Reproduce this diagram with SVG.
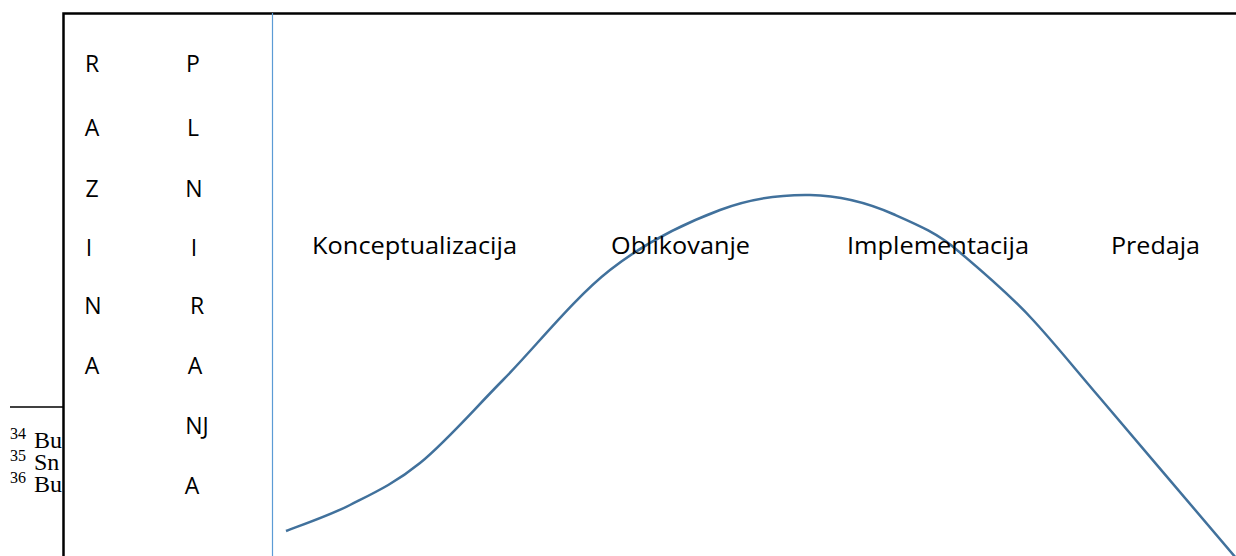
<svg xmlns="http://www.w3.org/2000/svg" width="1236" height="556" viewBox="0 0 1236 556">
<style>
.lbl{font-family:"Open Sans","Liberation Sans",sans-serif;font-size:23px;fill:#000}
.col{text-anchor:middle}
.fn{font-family:"Liberation Serif",serif;font-size:24px;fill:#000}
.sup{font-size:16px}
</style>
<rect width="1236" height="556" fill="#fff"/>
<g id="footnotes">
<line x1="10" y1="407" x2="64" y2="407" stroke="#000" stroke-width="1.5"/>
<text class="fn" x="10" y="448"><tspan class="sup" dy="-9">34</tspan><tspan dx="8" dy="9">Bu</tspan></text>
<text class="fn" x="10" y="470"><tspan class="sup" dy="-9">35</tspan><tspan dx="8" dy="9">Sn</tspan></text>
<text class="fn" x="10" y="492"><tspan class="sup" dy="-9">36</tspan><tspan dx="8" dy="9">Bu</tspan></text>
</g>
<g id="frame">
<rect x="63.5" y="13.5" width="1300" height="700" fill="#fff" stroke="#000" stroke-width="2.5"/>
<line x1="272.5" y1="13" x2="272.5" y2="556" stroke="#5B9BD5" stroke-width="1.2"/>
</g>
<g id="razina">
<text class="lbl col" x="92" y="72">R</text>
<text class="lbl col" x="92" y="136">A</text>
<text class="lbl col" x="92" y="197">Z</text>
<text class="lbl col" x="89" y="256">I</text>
<text class="lbl col" x="93" y="314">N</text>
<text class="lbl col" x="92" y="374">A</text>
</g>
<g id="planiranja">
<text class="lbl col" x="193" y="72">P</text>
<text class="lbl col" x="193" y="136">L</text>
<text class="lbl col" x="194" y="197">N</text>
<text class="lbl col" x="194" y="256">I</text>
<text class="lbl col" x="197" y="314">R</text>
<text class="lbl col" x="195" y="374">A</text>
<text class="lbl col" x="197" y="434">NJ</text>
<text class="lbl col" x="192" y="494">A</text>
</g>
<g id="connectors">
<path d="M286,531 C296.7,526.7 327.7,516.3 350,505 C372.3,493.7 394.5,483.8 420,463 C445.5,442.2 471.3,412.2 503,380 C534.7,347.8 573.8,298.3 610,270 C646.2,241.7 686.7,222.5 720,210 C753.3,197.5 782,194.5 810,195 C838,195.5 868,203 893,214 C918,225 937,233 957,250 C982,271 1010.8,295.8 1033,320 C1055.2,344.2 1066.2,358.3 1100,398 C1133.8,437.7 1213.3,531.3 1236,558" fill="none" stroke="#41719C" stroke-width="2.5"/>
</g>
<g id="phase-konceptualizacija"><text class="lbl" x="312" y="254" textLength="205" lengthAdjust="spacingAndGlyphs">Konceptualizacija</text></g>
<g id="phase-oblikovanje"><text class="lbl" x="611" y="254" textLength="139" lengthAdjust="spacingAndGlyphs">Oblikovanje</text></g>
<g id="phase-implementacija"><text class="lbl" x="847" y="254" textLength="182" lengthAdjust="spacingAndGlyphs">Implementacija</text></g>
<g id="phase-predaja"><text class="lbl" x="1111" y="254" textLength="89" lengthAdjust="spacingAndGlyphs">Predaja</text></g>
</svg>
